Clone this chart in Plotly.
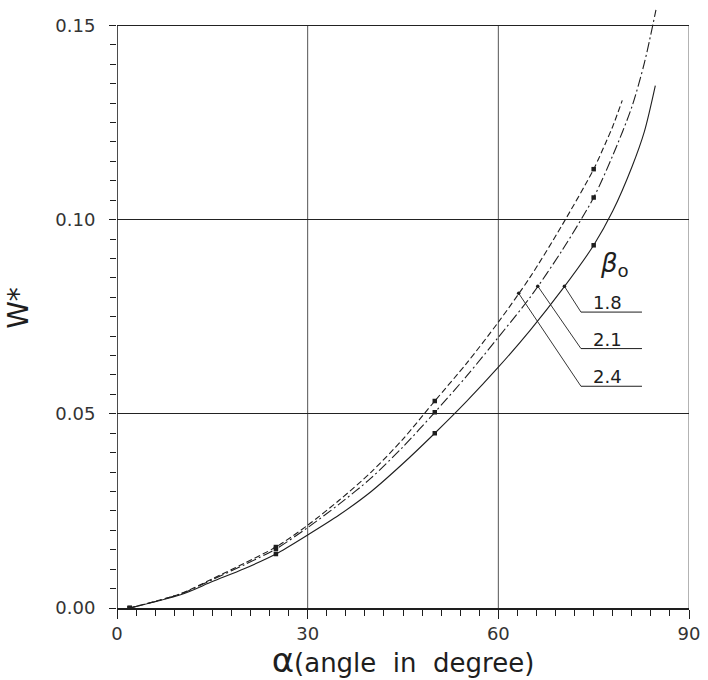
import numpy as np
import plotly.graph_objects as go

# W* against alpha (degrees) for three values of beta_0
alpha_24 = [2, 10, 15, 20, 25, 30, 35, 40, 45, 50, 55, 60, 65, 70, 75, 77, 78, 79.5]
w_24 = [0.0, 0.0037, 0.0075, 0.0115, 0.0157, 0.0213, 0.0278, 0.0350, 0.0435,
        0.0533, 0.0630, 0.0736, 0.0852, 0.0985, 0.1130, 0.1202, 0.1240, 0.1307]

alpha_21 = [2, 10, 15, 20, 25, 30, 35, 40, 45, 50, 55, 60, 65, 70, 75, 78, 81, 83, 84.8]
w_21 = [0.0, 0.0036, 0.0073, 0.0111, 0.0152, 0.0207, 0.0268, 0.0335, 0.0415,
        0.0504, 0.0597, 0.0697, 0.0800, 0.0920, 0.1057, 0.1165, 0.1290, 0.1405,
        0.1540]

alpha_18 = [2, 10, 15, 20, 25, 30, 35, 40, 45, 50, 55, 60, 65, 70, 75, 78, 81, 83, 84.7]
w_18 = [0.0, 0.0034, 0.0068, 0.0101, 0.0139, 0.0188, 0.0240, 0.0300, 0.0372,
        0.0450, 0.0532, 0.0620, 0.0715, 0.0819, 0.0934, 0.1022, 0.1135, 0.1228,
        0.1345]

beta_labels = ["1.8", "2.1", "2.4"]
marked_alpha = [2, 25, 50, 75]

x_ticks = [0, 30, 60, 90]
y_ticks = [0.00, 0.05, 0.10, 0.15]

FONT = "DejaVu Sans"
INK = "#1e1e1e"

series = [
    (alpha_18, w_18, "solid"),
    (alpha_21, w_21, "10px,3px,2px,3px"),
    (alpha_24, w_24, "6px,3px"),
]

fig = go.Figure()

for (ax, wy, dash), lab in zip(series, beta_labels):
    fig.add_trace(go.Scatter(
        x=ax, y=wy, mode="lines",
        line=dict(color=INK, width=1.1, dash=dash, shape="spline", smoothing=0.8),
        name=lab, showlegend=False, hoverinfo="skip"))
    mx = [a for a in ax if a in marked_alpha]
    my = [w for a, w in zip(ax, wy) if a in marked_alpha]
    fig.add_trace(go.Scatter(
        x=mx, y=my, mode="markers", marker=dict(symbol="square", size=4.5, color=INK),
        showlegend=False, hoverinfo="skip"))

shapes = []
# frame and vertical grid lines, limited to the 0..0.15 band
shapes.append(dict(type="line", x0=0, x1=0, y0=0, y1=0.15, xref="x", yref="y",
                   line=dict(color=INK, width=1.6), layer="above"))
shapes.append(dict(type="line", x0=90, x1=90, y0=0, y1=0.15, xref="x", yref="y",
                   line=dict(color="#666", width=1), layer="below"))
for gx in (30, 60):
    shapes.append(dict(type="line", x0=gx, x1=gx, y0=0, y1=0.15, xref="x", yref="y",
                       line=dict(color="#555", width=1), layer="below"))

# label leaders: underline + slanted line to the curve
label_x0, label_x1 = 73.0, 82.6
label_y = [0.0762, 0.0668, 0.0571]
anchor_x = [70.4, 66.2, 63.2]
anchor_pts = []
for (ax, wy, _), lx, ly in zip(series, anchor_x, label_y):
    ay = float(np.interp(lx, ax, wy))
    anchor_pts.append((lx, ay))
    shapes.append(dict(type="line", x0=label_x0, x1=label_x1, y0=ly, y1=ly, xref="x", yref="y",
                       line=dict(color=INK, width=1)))
    shapes.append(dict(type="line", x0=label_x0, x1=lx, y0=ly, y1=ay, xref="x", yref="y",
                       line=dict(color=INK, width=0.9)))

fig.add_trace(go.Scatter(
    x=[p[0] for p in anchor_pts], y=[p[1] for p in anchor_pts], mode="markers",
    marker=dict(size=3.5, color=INK), showlegend=False, hoverinfo="skip"))

annotations = []
for lab, ly in zip(beta_labels, label_y):
    annotations.append(dict(x=77.2, y=ly, xref="x", yref="y", text=lab, showarrow=False,
                            yanchor="bottom", xanchor="center", yshift=-3,
                            font=dict(family=FONT, size=18, color=INK)))
annotations.append(dict(x=78.3, y=0.0885, xref="x", yref="y",
                        text="<i>β</i><sub>o</sub>", showarrow=False,
                        font=dict(family=FONT, size=26, color=INK)))

fig.update_layout(
    width=708, height=680, autosize=False,
    margin=dict(l=117, r=16, t=8, b=72),
    paper_bgcolor="white", plot_bgcolor="white",
    shapes=shapes, annotations=annotations,
    font=dict(family=FONT, color=INK),
)

fig.update_xaxes(
    range=[0, 90], tickvals=x_ticks, ticktext=[str(v) for v in x_ticks],
    showgrid=False, zeroline=False,
    showline=True, linecolor=INK, linewidth=1.6,
    ticks="outside", ticklen=9, tickwidth=1, tickcolor=INK,
    minor=dict(dtick=3, ticks="outside", ticklen=6, tickwidth=1, tickcolor=INK, showgrid=False),
    tickfont=dict(family=FONT, size=18, color="#333"),
    title=dict(text='<span style="font-size:34px">α</span>(angle  in  degree)',
               font=dict(family=FONT, size=26, color=INK), standoff=3),
)

fig.update_yaxes(
    range=[0, 0.1545], tickvals=y_ticks, ticktext=[f"{v:.2f}" for v in y_ticks],
    showgrid=True, gridcolor="#222", gridwidth=1.2,
    zeroline=False, showline=False,
    ticks="outside", ticklen=7, tickwidth=1, tickcolor=INK,
    minor=dict(dtick=0.005, ticks="outside", ticklen=6, tickwidth=1, tickcolor=INK, showgrid=False),
    tickfont=dict(family=FONT, size=18, color="#333"),
    ticklabelstandoff=10,
    title=dict(text="W*", font=dict(family=FONT, size=28, color=INK), standoff=18),
)

fig.write_html("out.html")
